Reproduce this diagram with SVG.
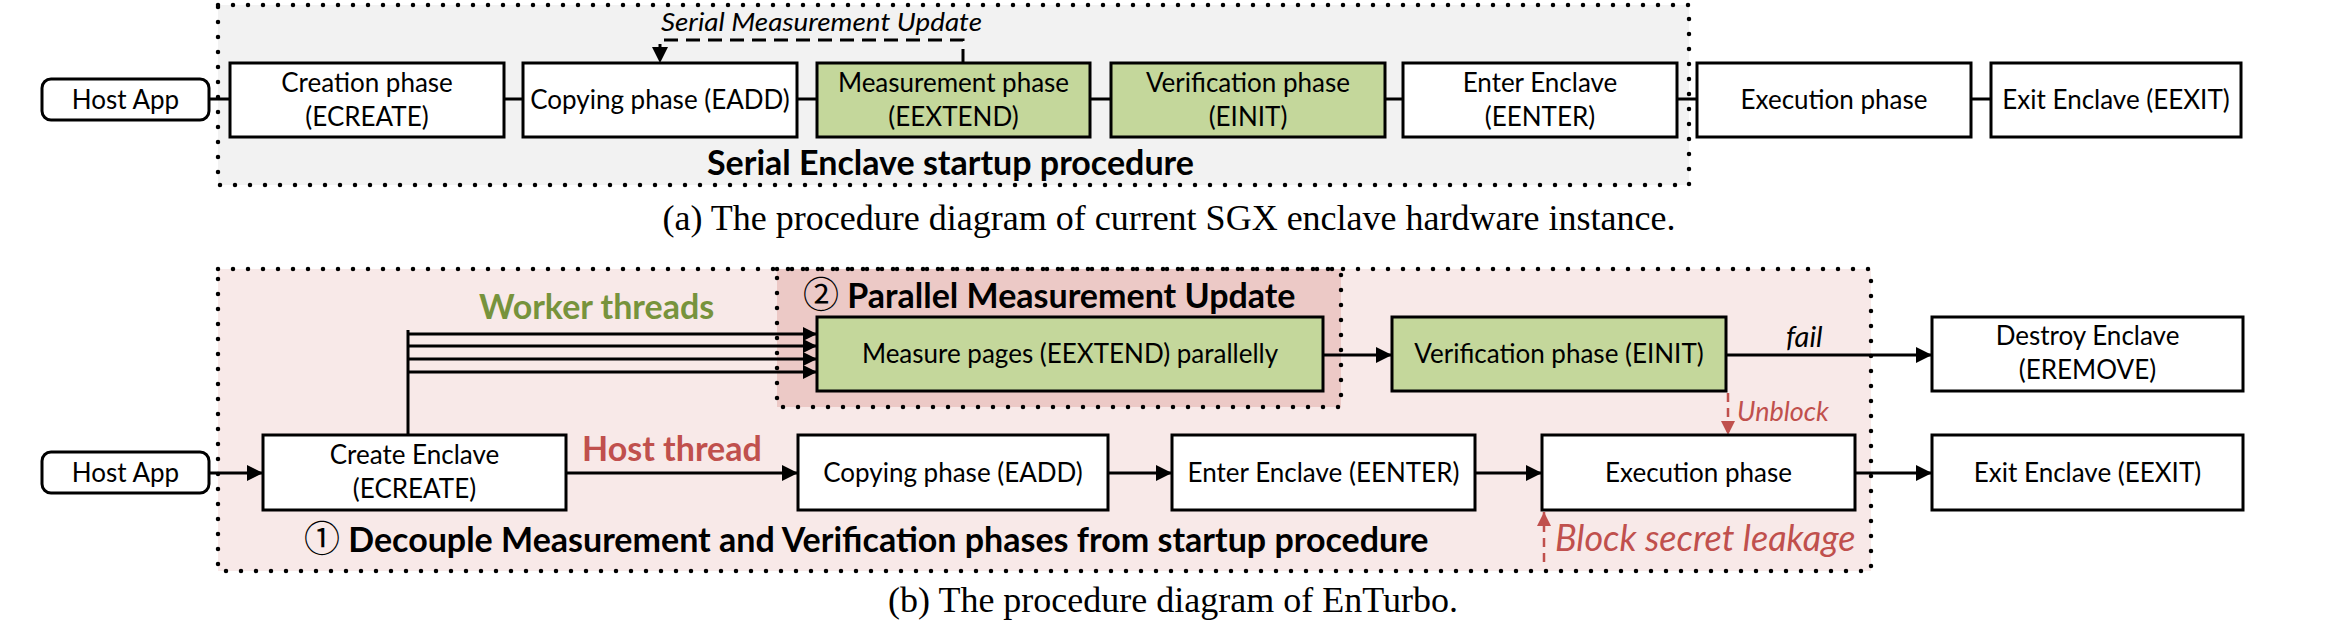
<svg xmlns="http://www.w3.org/2000/svg" width="2336" height="628" viewBox="0 0 2336 628">
<style>
.box{fill:#fff;stroke:#000;stroke-width:3}
.green{fill:#c4d79b;stroke:#000;stroke-width:3}
.t{font-family:Lato,"Open Sans","DejaVu Sans",sans-serif;font-size:26px;fill:#000;text-anchor:middle}
.b{font-family:Lato,"Open Sans","DejaVu Sans",sans-serif;font-weight:bold;font-size:34px;fill:#000}
.num{font-family:"Noto Sans CJK JP","Noto Sans CJK SC","DejaVu Sans",sans-serif;font-weight:normal;font-size:36px}
.i{font-family:Lato,"Open Sans","DejaVu Sans",sans-serif;font-style:italic;fill:#000}
.cap{font-family:"Liberation Serif","Times New Roman",serif;font-size:36px;fill:#000;text-anchor:middle}
.dot{stroke:#000;stroke-width:4.5;stroke-dasharray:0 15;stroke-linecap:round}
.ln{stroke:#000;stroke-width:3;fill:none}
.red{fill:#c0504d}
.grn{fill:#77933c}
.rdash{stroke:#c0504d;stroke-width:2.5;stroke-dasharray:9 6;fill:none}
</style>
<defs>
<marker id="ah" markerUnits="userSpaceOnUse" markerWidth="17" markerHeight="16" refX="16" refY="8" orient="auto"><path d="M0,0 L16,8 L0,16 z" fill="#000"/></marker>
<marker id="ahs" markerUnits="userSpaceOnUse" markerWidth="15" markerHeight="14" refX="14" refY="7" orient="auto"><path d="M0,0 L14,7 L0,14 z" fill="#000"/></marker>
<marker id="ahr" markerUnits="userSpaceOnUse" markerWidth="15" markerHeight="15" refX="14" refY="7" orient="auto"><path d="M0,0 L14,7 L0,14 z" fill="#c0504d"/></marker>
</defs>
<rect width="2336" height="628" fill="#fff"/>

<g id="panel-a">
<rect x="218" y="5" width="1471" height="180" fill="#f2f2f2"/>
<rect x="218" y="5" width="1471" height="180" fill="none" class="dot"/>
<text class="b" x="707" y="175">Serial Enclave startup procedure</text>
</g>
<g id="panel-b">
<rect x="218" y="269" width="1653" height="302" fill="#f8e9e8"/>
<rect x="777" y="269" width="564" height="138" fill="#ecc9c6"/>
<rect x="218" y="269" width="1653" height="302" fill="none" class="dot"/>
<rect x="777" y="269" width="564" height="138" fill="none" class="dot"/>
<text class="b" x="803" y="308"><tspan class="num">②</tspan> Parallel Measurement Update</text>
<text class="b" x="304" y="552"><tspan class="num">①</tspan> Decouple Measurement and Verification phases from startup procedure</text>
</g>

<g id="connectors">
<line class="ln" x1="209" y1="99" x2="230" y2="99"/>
<line class="ln" x1="504" y1="99" x2="523" y2="99"/>
<line class="ln" x1="797" y1="99" x2="817" y2="99"/>
<line class="ln" x1="1090" y1="99" x2="1111" y2="99"/>
<line class="ln" x1="1385" y1="99" x2="1403" y2="99"/>
<line class="ln" x1="1677" y1="99" x2="1697" y2="99"/>
<line class="ln" x1="1971" y1="99" x2="1991" y2="99"/>
<path class="ln" d="M963,63 V40 H660 V63" stroke-dasharray="14 8" marker-end="url(#ah)"/>
<text class="i" x="661" y="31" style="font-size:26px" textLength="321" lengthAdjust="spacingAndGlyphs">Serial Measurement Update</text>
<line class="ln" x1="408" y1="330" x2="408" y2="435"/>
<line class="ln" x1="408" y1="334" x2="817" y2="334" marker-end="url(#ahs)"/>
<line class="ln" x1="408" y1="346" x2="817" y2="346" marker-end="url(#ahs)"/>
<line class="ln" x1="408" y1="359" x2="817" y2="359" marker-end="url(#ahs)"/>
<line class="ln" x1="408" y1="372" x2="817" y2="372" marker-end="url(#ahs)"/>
<line class="ln" x1="1323" y1="355" x2="1392" y2="355" marker-end="url(#ah)"/>
<line class="ln" x1="1726" y1="355" x2="1932" y2="355" marker-end="url(#ah)"/>
<text class="i" x="1786" y="347" style="font-size:29px">fail</text>
<line class="rdash" x1="1728" y1="393" x2="1728" y2="435" marker-end="url(#ahr)"/>
<text class="i red" x="1737" y="421" style="font-size:27px">Unblock</text>
<line class="ln" x1="209" y1="473" x2="263" y2="473" marker-end="url(#ah)"/>
<line class="ln" x1="566" y1="473" x2="798" y2="473" marker-end="url(#ah)"/>
<line class="ln" x1="1108" y1="473" x2="1172" y2="473" marker-end="url(#ah)"/>
<line class="ln" x1="1475" y1="473" x2="1542" y2="473" marker-end="url(#ah)"/>
<line class="ln" x1="1855" y1="473" x2="1932" y2="473" marker-end="url(#ah)"/>
<line class="rdash" x1="1544" y1="562" x2="1544" y2="512" marker-end="url(#ahr)"/>
<text class="i red" x="1555" y="551" style="font-size:36px">Block secret leakage</text>
<text class="b grn" x="479" y="319">Worker threads</text>
<text class="b red" x="582" y="461">Host thread</text>
</g>

<g id="a-host"><rect class="box" x="42" y="79" width="167" height="41" rx="9"/><text class="t" x="125.5" y="109">Host App</text></g>
<g id="a-create"><rect class="box" x="230" y="63" width="274" height="74"/><text class="t" x="367" y="92">Creation phase</text><text class="t" x="367" y="126">(ECREATE)</text></g>
<g id="a-copy"><rect class="box" x="523" y="63" width="274" height="74"/><text class="t" x="660" y="109">Copying phase (EADD)</text></g>
<g id="a-measure"><rect class="green" x="817" y="63" width="273" height="74"/><text class="t" x="953.5" y="92">Measurement phase</text><text class="t" x="953.5" y="126">(EEXTEND)</text></g>
<g id="a-verify"><rect class="green" x="1111" y="63" width="274" height="74"/><text class="t" x="1248" y="92">Verification phase</text><text class="t" x="1248" y="126">(EINIT)</text></g>
<g id="a-enter"><rect class="box" x="1403" y="63" width="274" height="74"/><text class="t" x="1540" y="92">Enter Enclave</text><text class="t" x="1540" y="126">(EENTER)</text></g>
<g id="a-exec"><rect class="box" x="1697" y="63" width="274" height="74"/><text class="t" x="1834" y="109">Execution phase</text></g>
<g id="a-exit"><rect class="box" x="1991" y="63" width="250" height="74"/><text class="t" x="2116" y="109">Exit Enclave (EEXIT)</text></g>

<g id="b-measure"><rect class="green" x="817" y="317" width="506" height="74"/><text class="t" x="1070" y="363">Measure pages (EEXTEND) parallelly</text></g>
<g id="b-verify"><rect class="green" x="1392" y="317" width="334" height="74"/><text class="t" x="1559" y="363">Verification phase (EINIT)</text></g>
<g id="b-destroy"><rect class="box" x="1932" y="317" width="311" height="74"/><text class="t" x="2087.5" y="345">Destroy Enclave</text><text class="t" x="2087.5" y="379">(EREMOVE)</text></g>
<g id="b-host"><rect class="box" x="42" y="452" width="167" height="41" rx="9"/><text class="t" x="125.5" y="482">Host App</text></g>
<g id="b-create"><rect class="box" x="263" y="435" width="303" height="75"/><text class="t" x="414.5" y="464">Create Enclave</text><text class="t" x="414.5" y="498">(ECREATE)</text></g>
<g id="b-copy"><rect class="box" x="798" y="435" width="310" height="75"/><text class="t" x="953" y="482">Copying phase (EADD)</text></g>
<g id="b-enter"><rect class="box" x="1172" y="435" width="303" height="75"/><text class="t" x="1323.5" y="482">Enter Enclave (EENTER)</text></g>
<g id="b-exec"><rect class="box" x="1542" y="435" width="313" height="75"/><text class="t" x="1698.5" y="482">Execution phase</text></g>
<g id="b-exit"><rect class="box" x="1932" y="435" width="311" height="75"/><text class="t" x="2087.5" y="482">Exit Enclave (EEXIT)</text></g>

<g id="captions">
<text class="cap" x="1169" y="230">(a) The procedure diagram of current SGX enclave hardware instance.</text>
<text class="cap" x="1173" y="612">(b) The procedure diagram of EnTurbo.</text>
</g>
</svg>
